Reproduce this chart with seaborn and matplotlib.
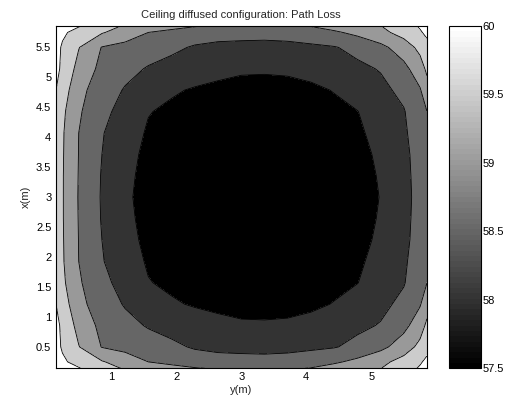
import numpy as np
import matplotlib
matplotlib.use("Agg")
import matplotlib.pyplot as plt
import seaborn as sns
from matplotlib.colors import ListedColormap, Normalize
from matplotlib.cm import ScalarMappable

# ---- data ----
y_m = [0.143, 0.25, 0.500, 0.857, 1.214, 1.571, 1.929, 2.286, 2.643, 3.000,
       3.357, 3.714, 4.071, 4.429, 4.786, 5.143, 5.500, 5.75, 5.857]
x_m = [0.143, 0.25, 0.500, 0.857, 1.214, 1.571, 1.929, 2.286, 2.643, 3.000,
       3.357, 3.714, 4.071, 4.429, 4.786, 5.143, 5.500, 5.75, 5.857]

# rows follow x_m (bottom to top), columns follow y_m (left to right)
path_loss = [
    [60.60, 60.35, 60.03, 59.71, 59.45, 59.31, 59.17, 59.03, 58.96, 58.93, 58.92, 58.94, 59.02, 59.18, 59.33, 59.49, 59.79, 60.05, 60.20],
    [60.40, 60.07, 59.85, 59.54, 59.27, 59.00, 58.86, 58.76, 58.68, 58.65, 58.64, 58.66, 58.76, 58.93, 59.12, 59.37, 59.68, 59.95, 60.10],
    [60.15, 59.95, 59.52, 58.98, 58.85, 58.73, 58.60, 58.45, 58.39, 58.38, 58.37, 58.39, 58.42, 58.47, 58.63, 58.87, 59.25, 59.63, 59.85],
    [60.15, 59.90, 59.34, 58.87, 58.65, 58.46, 58.33, 58.22, 58.14, 58.07, 58.06, 58.08, 58.15, 58.27, 58.40, 58.53, 58.86, 59.28, 59.60],
    [60.02, 59.75, 59.14, 58.75, 58.46, 58.25, 58.05, 57.96, 57.89, 57.84, 57.83, 57.85, 57.91, 58.02, 58.20, 58.38, 58.62, 58.96, 59.30],
    [59.95, 59.60, 59.06, 58.64, 58.31, 58.02, 57.92, 57.85, 57.80, 57.76, 57.74, 57.76, 57.81, 57.89, 57.99, 58.23, 58.47, 58.82, 59.00],
    [59.88, 59.55, 59.00, 58.53, 58.22, 57.95, 57.86, 57.78, 57.73, 57.69, 57.67, 57.69, 57.74, 57.82, 57.94, 58.12, 58.42, 58.77, 58.97],
    [59.83, 59.54, 58.99, 58.50, 58.10, 57.93, 57.83, 57.75, 57.70, 57.66, 57.64, 57.66, 57.71, 57.78, 57.90, 58.06, 58.38, 58.70, 58.90],
    [59.81, 59.53, 58.98, 58.47, 58.07, 57.91, 57.81, 57.73, 57.68, 57.64, 57.62, 57.64, 57.69, 57.76, 57.87, 58.03, 58.36, 58.68, 58.87],
    [59.80, 59.53, 58.97, 58.46, 58.05, 57.90, 57.80, 57.72, 57.67, 57.63, 57.61, 57.63, 57.68, 57.75, 57.86, 58.01, 58.35, 58.66, 58.85],
    [59.81, 59.53, 58.98, 58.47, 58.07, 57.91, 57.81, 57.73, 57.68, 57.64, 57.62, 57.64, 57.69, 57.76, 57.87, 58.03, 58.36, 58.68, 58.87],
    [59.83, 59.54, 58.99, 58.50, 58.10, 57.93, 57.83, 57.75, 57.70, 57.66, 57.64, 57.66, 57.71, 57.78, 57.90, 58.06, 58.38, 58.70, 58.90],
    [59.88, 59.55, 59.00, 58.53, 58.22, 57.95, 57.86, 57.78, 57.73, 57.69, 57.67, 57.69, 57.74, 57.82, 57.94, 58.12, 58.42, 58.77, 58.97],
    [59.95, 59.60, 59.06, 58.64, 58.31, 58.02, 57.92, 57.85, 57.80, 57.76, 57.74, 57.76, 57.81, 57.89, 57.99, 58.23, 58.47, 58.82, 59.00],
    [60.02, 59.75, 59.14, 58.75, 58.46, 58.25, 58.05, 57.96, 57.89, 57.84, 57.83, 57.85, 57.91, 58.02, 58.20, 58.38, 58.62, 58.96, 59.30],
    [60.15, 59.90, 59.34, 58.87, 58.65, 58.46, 58.33, 58.22, 58.14, 58.07, 58.06, 58.08, 58.15, 58.27, 58.40, 58.53, 58.86, 59.28, 59.60],
    [60.15, 59.95, 59.52, 58.98, 58.85, 58.73, 58.60, 58.45, 58.39, 58.38, 58.37, 58.39, 58.42, 58.47, 58.63, 58.87, 59.25, 59.63, 59.85],
    [60.40, 60.07, 59.85, 59.54, 59.27, 59.00, 58.86, 58.76, 58.68, 58.65, 58.64, 58.66, 58.76, 58.93, 59.12, 59.37, 59.68, 59.95, 60.10],
    [60.60, 60.35, 60.03, 59.71, 59.45, 59.31, 59.17, 59.03, 58.96, 58.93, 58.92, 58.94, 59.02, 59.18, 59.33, 59.49, 59.79, 60.05, 60.20],
]

levels = [57.5, 58.0, 58.5, 59.0, 59.5, 60.0, 62.0]
band_colors = ["#000000", "#333333", "#666666", "#999999", "#cccccc", "#ffffff"]
cbar_ticks = [57.5, 58, 58.5, 59, 59.5, 60]
x_ticks = [1, 2, 3, 4, 5]
y_ticks = [0.5, 1, 1.5, 2, 2.5, 3, 3.5, 4, 4.5, 5, 5.5]

# ---- style ----
sns.set_theme(style="white")
plt.rcParams["font.family"] = ["Liberation Sans", "DejaVu Sans"]
plt.rcParams["font.size"] = 8

fig = plt.figure(figsize=(5.19, 4.08), dpi=100)
W, H = 519.0, 408.0
ax = fig.add_axes([55.5 / W, (H - 368.3) / H, 371.5 / W, 342.3 / H])
cax = fig.add_axes([449 / W, (H - 368.3) / H, 32 / W, 342.3 / H])

X, Y = np.meshgrid(y_m, x_m)
Z = np.array(path_loss)
ax.contourf(X, Y, Z, levels=levels, colors=band_colors)
ax.contour(X, Y, Z, levels=levels[:-1], colors="black", linewidths=0.6)

ax.set_xlim(y_m[0], y_m[-1])
ax.set_ylim(x_m[0], x_m[-1])
ax.set_xticks(x_ticks)
ax.set_xticklabels([f"{t:g}" for t in x_ticks])
ax.set_yticks(y_ticks)
ax.set_yticklabels([f"{t:g}" for t in y_ticks])
ax.tick_params(direction="in", length=3.5, width=0.6, colors="black",
               labelsize=8, top=True, right=True, bottom=True, left=True, pad=3)
for s in ax.spines.values():
    s.set_color("black")
    s.set_linewidth(0.8)
ax.set_xlabel("y(m)", fontsize=8, labelpad=2)
ax.set_ylabel("x(m)", fontsize=8, labelpad=4)
ax.set_title("Ceiling diffused configuration: Path Loss", fontsize=8, pad=6)

# colorbar (MATLAB gray(64))
gray64 = ListedColormap(np.linspace(0, 1, 64)[:, None].repeat(3, axis=1))
sm = ScalarMappable(norm=Normalize(57.5, 60), cmap=gray64)
cb = fig.colorbar(sm, cax=cax, ticks=cbar_ticks)
cb.ax.set_yticklabels([f"{t:g}" for t in cbar_ticks])
cb.outline.set_edgecolor("black")
cb.outline.set_linewidth(0.8)
cax.tick_params(direction="in", length=3.5, width=0.6, colors="black",
                labelsize=8, left=True, right=True, pad=1)

fig.savefig("out.png", dpi=100)
